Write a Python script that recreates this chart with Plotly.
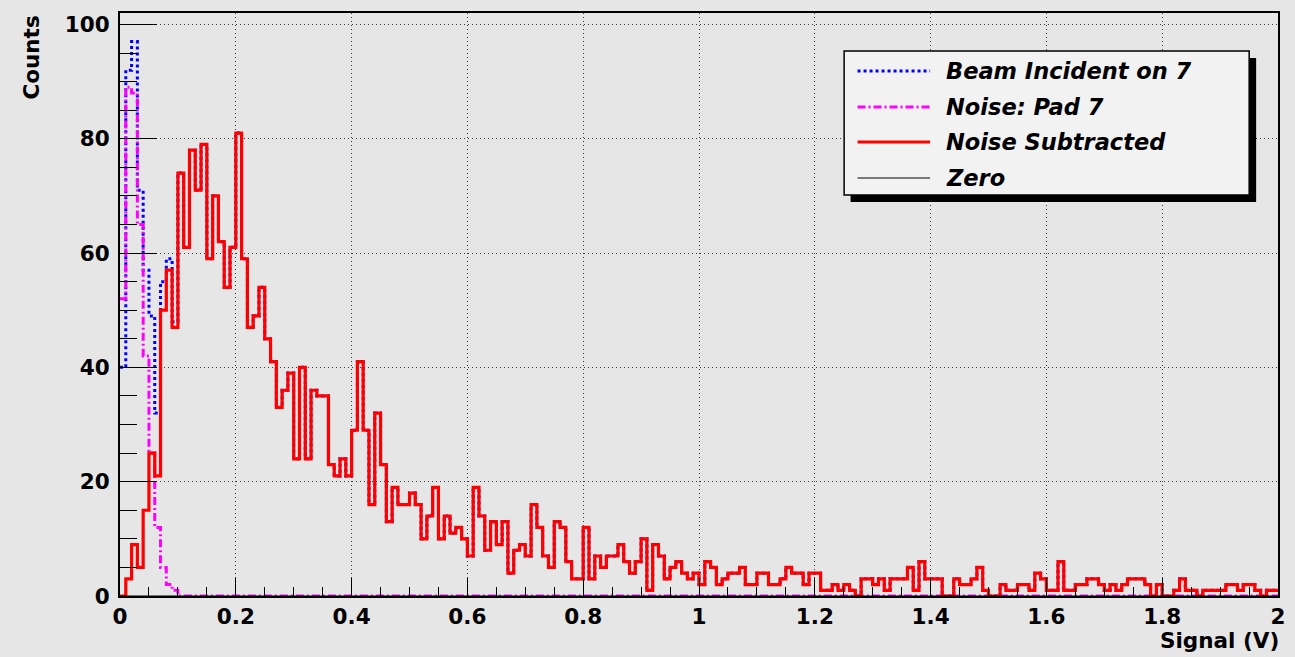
import numpy as np
import plotly.graph_objects as go

# ---------------- data (200 bins on [0, 2] V) ----------------
x_min, x_max, n_bins = 0.0, 2.0, 200

beam_incident = [
    40, 92, 97, 71, 57, 49, 32, 55, 59, 48,
    74, 61, 78, 71, 79, 59, 70, 62, 54, 61,
    81, 59, 47, 49, 54, 45, 41, 33, 36, 39,
    24, 40, 24, 36, 35, 35, 23, 21, 24, 21,
    29, 41, 29, 16, 32, 23, 13, 19, 16, 16,
    18, 16, 10, 14, 19, 10, 14, 11, 12, 10,
    7, 19, 14, 8, 13, 9, 13, 4, 8, 9,
    7, 16, 12, 7, 5, 13, 12, 6, 3, 3,
    12, 3, 7, 5, 7, 7, 9, 6, 4, 6,
    10, 1, 9, 7, 3, 5, 6, 4, 3, 4,
    2, 6, 5, 2, 3, 4, 4, 5, 2, 2,
    4, 4, 2, 2, 3, 5, 4, 4, 2, 4,
    4, 1, 1, 2, 1, 2, 1, 0, 3, 3,
    2, 3, 1, 3, 3, 3, 5, 1, 6, 3,
    3, 3, 0, 0, 3, 2, 2, 3, 5, 1,
    0, 0, 2, 1, 1, 2, 2, 1, 4, 3,
    1, 1, 6, 1, 1, 2, 2, 3, 3, 2,
    1, 2, 1, 2, 3, 3, 3, 2, 0, 2,
    0, 0, 1, 3, 1, 1, 0, 1, 1, 1,
    1, 2, 2, 1, 2, 2, 1, 0, 1, 1,
]

noise_pad7 = [
    52, 89, 88, 65, 42, 25, 12, 5, 2, 1,
    0, 0, 0, 0, 0, 0, 0, 0, 0, 0,
    0, 0, 0, 0, 0, 0, 0, 0, 0, 0,
    0, 0, 0, 0, 0, 0, 0, 0, 0, 0,
    0, 0, 0, 0, 0, 0, 0, 0, 0, 0,
    0, 0, 0, 0, 0, 0, 0, 0, 0, 0,
    0, 0, 0, 0, 0, 0, 0, 0, 0, 0,
    0, 0, 0, 0, 0, 0, 0, 0, 0, 0,
    0, 0, 0, 0, 0, 0, 0, 0, 0, 0,
    0, 0, 0, 0, 0, 0, 0, 0, 0, 0,
    0, 0, 0, 0, 0, 0, 0, 0, 0, 0,
    0, 0, 0, 0, 0, 0, 0, 0, 0, 0,
    0, 0, 0, 0, 0, 0, 0, 0, 0, 0,
    0, 0, 0, 0, 0, 0, 0, 0, 0, 0,
    0, 0, 0, 0, 0, 0, 0, 0, 0, 0,
    0, 0, 0, 0, 0, 0, 0, 0, 0, 0,
    0, 0, 0, 0, 0, 0, 0, 0, 0, 0,
    0, 0, 0, 0, 0, 0, 0, 0, 0, 0,
    0, 0, 0, 0, 0, 0, 0, 0, 0, 0,
    0, 0, 0, 0, 0, 0, 0, 0, 0, 0,
]

noise_subtracted = [
    0, 3, 9, 5, 15, 25, 21, 50, 57, 47,
    74, 61, 78, 71, 79, 59, 70, 62, 54, 61,
    81, 59, 47, 49, 54, 45, 41, 33, 36, 39,
    24, 40, 24, 36, 35, 35, 23, 21, 24, 21,
    29, 41, 29, 16, 32, 23, 13, 19, 16, 16,
    18, 16, 10, 14, 19, 10, 14, 11, 12, 10,
    7, 19, 14, 8, 13, 9, 13, 4, 8, 9,
    7, 16, 12, 7, 5, 13, 12, 6, 3, 3,
    12, 3, 7, 5, 7, 7, 9, 6, 4, 6,
    10, 1, 9, 7, 3, 5, 6, 4, 3, 4,
    2, 6, 5, 2, 3, 4, 4, 5, 2, 2,
    4, 4, 2, 2, 3, 5, 4, 4, 2, 4,
    4, 1, 1, 2, 1, 2, 1, 0, 3, 3,
    2, 3, 1, 3, 3, 3, 5, 1, 6, 3,
    3, 3, 0, 0, 3, 2, 2, 3, 5, 1,
    0, 0, 2, 1, 1, 2, 2, 1, 4, 3,
    1, 1, 6, 1, 1, 2, 2, 3, 3, 2,
    1, 2, 1, 2, 3, 3, 3, 2, 0, 2,
    0, 0, 1, 3, 1, 1, 0, 1, 1, 1,
    1, 2, 2, 1, 2, 2, 1, 0, 1, 1,
]

zero_level = [0, 0]

series_names = ["Beam Incident on 7", "Noise: Pad 7", "Noise Subtracted", "Zero"]
x_tick_step, y_tick_step = 0.2, 20
y_max = 102

# ---------------- figure ----------------
W, H = 1295, 657
ML, MR, MT, MB = 120, 10, 13, 61
PW, PH = W - ML - MR, H - MT - MB


def px(xp):  # pixel x -> paper
    return (xp - ML) / PW


def py(yp):  # pixel y -> paper
    return (H - MB - yp) / PH


edges = np.linspace(x_min, x_max, n_bins + 1)


def step(vals):
    return list(vals) + [vals[-1]]


styles = [
    dict(color="#0000ff", width=3, dash="dot"),
    dict(color="#ff00ff", width=3, dash="8px,3px,2px,3px"),
    dict(color="#ff0000", width=3.2, dash="solid"),
    dict(color="#000000", width=1, dash="solid"),
]

fig = go.Figure()
for name, vals, st in zip(series_names[:3], [beam_incident, noise_pad7, noise_subtracted], styles[:3]):
    fig.add_trace(go.Scatter(x=edges, y=step(vals), mode="lines", name=name,
                             line=dict(shape="hv", **st), showlegend=False,
                             hoverinfo="skip"))
fig.add_trace(go.Scatter(x=[x_min, x_max], y=zero_level, mode="lines", name=series_names[3],
                         line=styles[3], showlegend=False, hoverinfo="skip"))

tickfont = dict(family="DejaVu Sans", size=21.5, color="black", weight="bold")
grid = dict(showgrid=True, gridcolor="#3a3a3a", gridwidth=1, griddash="1px,3px")

fig.update_xaxes(range=[x_min, x_max], tick0=0, dtick=x_tick_step,
                 ticks="inside", ticklen=18, tickwidth=1, tickcolor="black",
                 minor=dict(dtick=0.05, ticks="inside", ticklen=9, tickwidth=1,
                            tickcolor="black", showgrid=False),
                 showline=True, linecolor="black", linewidth=2, mirror=True,
                 zeroline=False, tickfont=tickfont, **grid)
fig.update_yaxes(range=[0, y_max], tick0=0, dtick=y_tick_step,
                 ticks="inside", ticklen=37, tickwidth=1, tickcolor="black",
                 minor=dict(dtick=5, ticks="inside", ticklen=17, tickwidth=1,
                            tickcolor="black", showgrid=False),
                 showline=True, linecolor="black", linewidth=2, mirror=True,
                 zeroline=False, tickfont=tickfont, ticklabelstandoff=4, **grid)

# legend box (drawn manually to match the ROOT style with shadow)
shapes = [
    dict(type="rect", xref="paper", yref="paper", x0=px(855), x1=px(1263), y0=py(58), y1=py(202),
         fillcolor="black", line=dict(width=0), layer="above"),
    dict(type="rect", xref="paper", yref="paper", x0=px(848.5), x1=px(1256), y0=py(51), y1=py(195),
         fillcolor="#f2f2f2", line=dict(color="black", width=1.5), layer="above"),
]
annotations = []
rows = [71, 107, 142, 178]
for name, st, ry in zip(series_names, styles, rows):
    shapes.append(dict(type="line", xref="paper", yref="paper", x0=px(862), x1=px(935),
                       y0=py(ry), y1=py(ry), line=dict(color=st["color"], width=st["width"], dash=st["dash"]),
                       layer="above"))
    annotations.append(dict(text=name, xref="paper", yref="paper", x=px(949), y=py(ry),
                            xanchor="left", yanchor="middle", showarrow=False,
                            font=dict(family="DejaVu Sans", size=22.5, color="black",
                                      weight="bold", style="italic")))

annotations.append(dict(text="Signal (V)", xref="paper", yref="paper", x=px(1288), y=py(626),
                        xanchor="right", yanchor="top", showarrow=False,
                        font=dict(family="DejaVu Sans", size=21.5, color="black", weight="bold")))
annotations.append(dict(text="Counts", xref="paper", yref="paper", x=px(30), y=py(14),
                        xanchor="center", yanchor="top", textangle=-90, showarrow=False,
                        font=dict(family="DejaVu Sans", size=21.5, color="black", weight="bold")))

fig.update_layout(width=W, height=H, autosize=False,
                  margin=dict(l=ML, r=MR, t=MT, b=MB, pad=0),
                  paper_bgcolor="#e6e6e6", plot_bgcolor="#e6e6e6",
                  showlegend=False, shapes=shapes, annotations=annotations,
                  font=dict(family="DejaVu Sans", size=21, color="black"))

fig.write_html("out.html", config={"displayModeBar": False},
               post_script="document.body.style.margin='0';document.body.style.overflow='hidden';")
